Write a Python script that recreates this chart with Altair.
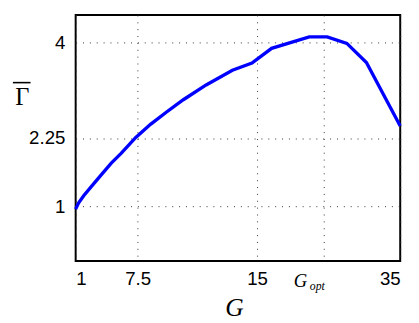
import altair as alt
import pandas as pd

# curve (x in axis coordinates, y = Gamma bar)
g_vals = [1.0, 1.3, 1.82, 2.68, 3.70, 4.73, 5.76, 7.30, 8.84, 10.56, 12.28, 14.67,
          17.42, 19.47, 21.53, 25.47, 27.35, 29.41, 31.46, 35.0]
gamma_vals = [0.95, 1.06, 1.19, 1.37, 1.58, 1.79, 1.97, 2.26, 2.50, 2.73, 2.95, 3.22,
              3.49, 3.62, 3.89, 4.10, 4.10, 3.98, 3.63, 2.47]

x_tick_pos = [1, 7.5, 20, 27, 35]
x_tick_text = ["1", "7.5", "15", "", "35"]
y_ticks = [1, 2.25, 4]
gopt_pos = 27

df = pd.DataFrame({"G": g_vals, "Gamma": gamma_vals})

label_expr = " : ".join(
    [f"datum.value == {p} ? '{t}'" for p, t in zip(x_tick_pos, x_tick_text)] + ["''"]
)

W, H = 331, 251

line = alt.Chart(df).mark_line(color="#0000FF", strokeWidth=3.4).encode(
    x=alt.X("G:Q", scale=alt.Scale(domain=[1, 35], nice=False, zero=False),
            axis=alt.Axis(values=x_tick_pos, labelExpr=label_expr, title="G",
                          titleFont="Liberation Serif", titleFontStyle="italic",
                          titleFontWeight="normal", titleFontSize=26, titlePadding=7,
                          titleColor="black", titleX=W / 2 - 4)),
    y=alt.Y("Gamma:Q", scale=alt.Scale(domain=[0, 4.5], nice=False, zero=False),
            axis=alt.Axis(values=y_ticks, format=".2~f", title="Γ", titleAngle=0,
                          titleFont="Liberation Serif", titleFontWeight="normal",
                          titleFontSize=25, titleColor="black",
                          titleX=-55, titleY=83, titleAlign="center",
                          titleBaseline="middle")),
)

gdf = pd.DataFrame({"G": [gopt_pos]})
g_main = alt.Chart(gdf).mark_text(
    text="G", font="Liberation Serif", fontStyle="italic", fontSize=19,
    align="right", baseline="alphabetic", dx=-17, color="black"
).encode(x="G:Q", y=alt.value(H + 26))
g_sub = alt.Chart(gdf).mark_text(
    text="opt", font="Liberation Serif", fontStyle="italic", fontSize=12,
    align="right", baseline="alphabetic", dx=1, color="black"
).encode(x="G:Q", y=alt.value(H + 29))

bar = alt.Chart(gdf).mark_rule(color="black", strokeWidth=1.6).encode(
    x=alt.value(-64), x2=alt.value(-46), y=alt.value(69)
)

chart = alt.layer(line, g_main, g_sub, bar).properties(
    width=W, height=H,
    autosize=alt.AutoSizeParams(type="none"),
    padding={"left": 69, "top": 4, "right": 11, "bottom": 58},
).configure_view(
    stroke="black", strokeWidth=2
).configure_axis(
    domain=False, ticks=False,
    grid=True, gridColor="#333333", gridDash=[1, 6], gridWidth=1, gridOpacity=1,
    labelFont="Liberation Sans", labelFontSize=19, labelColor="black",
    labelPadding=9,
).configure_axisY(labelPadding=11)

chart.save("out.html", embed_options={"renderer": "svg", "actions": False})
